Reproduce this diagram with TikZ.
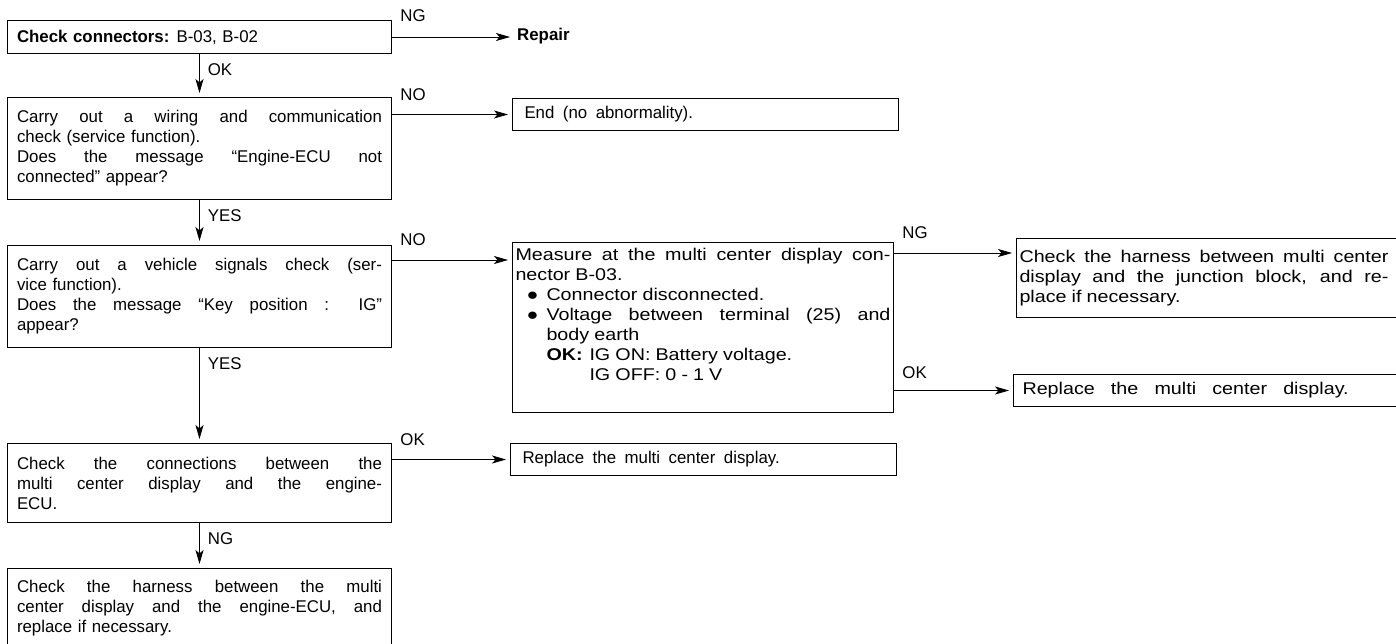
\documentclass[tikz,border=0pt]{standalone}
\usepackage{fontspec}
\setmainfont{Liberation Sans}[FakeStretch=0.99]
\newfontfamily\widefam{Liberation Sans}[FakeStretch=1.16]
\usetikzlibrary{arrows.meta,calc}
\newcommand\diafont{\fontsize{17}{20}\selectfont\spaceskip=0.33em plus 0.8em minus 0.08em\relax\parindent=0pt\hyphenpenalty=10000\exhyphenpenalty=10000\tolerance=9999\relax}
\newcommand\wsp[1]{\spaceskip=#1 plus 0.8em minus 0.1em\relax}
\newcommand\bul{●}
\begin{document}
\begin{tikzpicture}[x=1pt,y=-1pt,
  every node/.style={font=\diafont},
  pbox/.style={draw, line width=1pt, anchor=north west, inner ysep=0pt},
  arr/.style={line width=0.8pt, -{Stealth[length=14pt,width=8pt,inset=3.5pt]}, shorten >=4pt},
  lab/.style={inner sep=0pt, anchor=west}]
\useasboundingbox (0,0) rectangle (1396,643);

% left column
\node[pbox, inner xsep=9.5pt] (b1) at (7,20)
  {\parbox[c][33pt][c]{365pt}{\textbf{Check connectors:} B-03, B-02}};
\node[pbox, inner xsep=9.5pt] (b2) at (7,97)
  {\parbox[c][102pt][c]{365pt}{Carry out a wiring and communication\linebreak check (service function).\par
   Does the message “Engine-ECU not\linebreak connected” appear?}};
\node[pbox, inner xsep=9.5pt] (b3) at (7,245)
  {\parbox[c][102pt][c]{365pt}{Carry out a vehicle signals check (ser-\linebreak vice function).\par
   Does the message “Key position : IG”\linebreak appear?}};
\node[pbox, inner xsep=9.5pt] (b4) at (7,443)
  {\parbox[c][79pt][c]{365pt}{Check the connections between the\linebreak multi center display and the engine-\linebreak ECU.}};
\node[pbox, inner xsep=9.5pt] (b5) at (7,568)
  {\parbox[c][79pt][c]{365pt}{Check the harness between the multi\linebreak center display and the engine-ECU, and\linebreak replace if necessary.}};

% middle column
\node[inner sep=0pt, anchor=west, font=\diafont\bfseries] (rep) at (517,36.5) {Repair};
\node[pbox, inner xsep=12pt] (end) at (512,98)
  {\parbox[c][32pt][c]{362pt}{\wsp{0.5em}End (no abnormality).}};
\node[pbox, inner xsep=3pt, inner ysep=6pt] (m) at (512,242)
  {\widefam\wsp{0.3em}\parbox[c][158pt][t]{375pt}{Measure at the multi center display con-\linebreak nector B-03.\par
   \hangindent=31pt\hangafter=1\hspace*{11pt}\makebox[20pt][l]{\bul}Connector disconnected.\par
   \hangindent=31pt\hangafter=1\hspace*{11pt}\makebox[20pt][l]{\bul}Voltage between terminal (25) and\linebreak body earth\par
   \hspace*{31pt}\makebox[43pt][l]{\textbf{OK:}}IG ON: Battery voltage.\par
   \hspace*{74pt}IG OFF: 0 - 1 V}};
\node[pbox, inner xsep=12pt] (r2) at (510,443)
  {\parbox[c][32pt][c]{362pt}{\wsp{0.5em}Replace the multi center display.}};

% right column
\node[pbox, inner xsep=3pt] (h) at (1016,238)
  {\widefam\wsp{0.3em}\parbox[c][79pt][c]{369pt}{Check the harness between multi center\linebreak display and the junction block, and re-\linebreak place if necessary.}\hspace*{12pt}};
\node[pbox, inner xsep=9pt] (rr) at (1013,374)
  {\widefam\wsp{0.95em}\parbox[c][32pt][c]{370pt}{Replace the multi center display.}};

% connectors
\draw[arr, shorten >=7pt] (b1.east) -- (b1.east -| rep.west)
  node[lab, pos=0, xshift=8pt, yshift=21pt] (l1) {NG};
\draw[arr] (b1.south) -- (b2.north)
  node[lab, pos=0, xshift=8pt, yshift=-16pt] (l2) {OK};
\draw[arr] (b2.east |- end.west) -- (end.west)
  node[lab, pos=0, xshift=8pt, yshift=20pt] (l3) {NO};
\draw[arr] (b2.south) -- (b3.north)
  node[lab, pos=0, xshift=8pt, yshift=-16pt] (l4) {YES};
\coordinate (b3o) at ($(b3.north east)+(0,15)$);
\draw[arr] (b3o) -- (b3o -| m.west)
  node[lab, pos=0, xshift=8pt, yshift=20pt] (l5) {NO};
\coordinate (mo) at ($(m.north east)+(0,11)$);
\draw[arr] (mo) -- (mo -| h.west)
  node[lab, pos=0, xshift=8pt, yshift=20pt] (l6) {NG};
\draw[arr] (m.east |- rr.west) -- (rr.west)
  node[lab, pos=0, xshift=8pt, yshift=18pt] (l7) {OK};
\draw[arr] (b3.south) -- (b4.north)
  node[lab, pos=0, xshift=8pt, yshift=-16pt] (l8) {YES};
\draw[arr] (b4.east |- r2.west) -- (r2.west)
  node[lab, pos=0, xshift=8pt, yshift=20pt] (l9) {OK};
\draw[arr] (b4.south) -- (b5.north)
  node[lab, pos=0, xshift=8pt, yshift=-16pt] (l10) {NG};
\end{tikzpicture}
\end{document}
